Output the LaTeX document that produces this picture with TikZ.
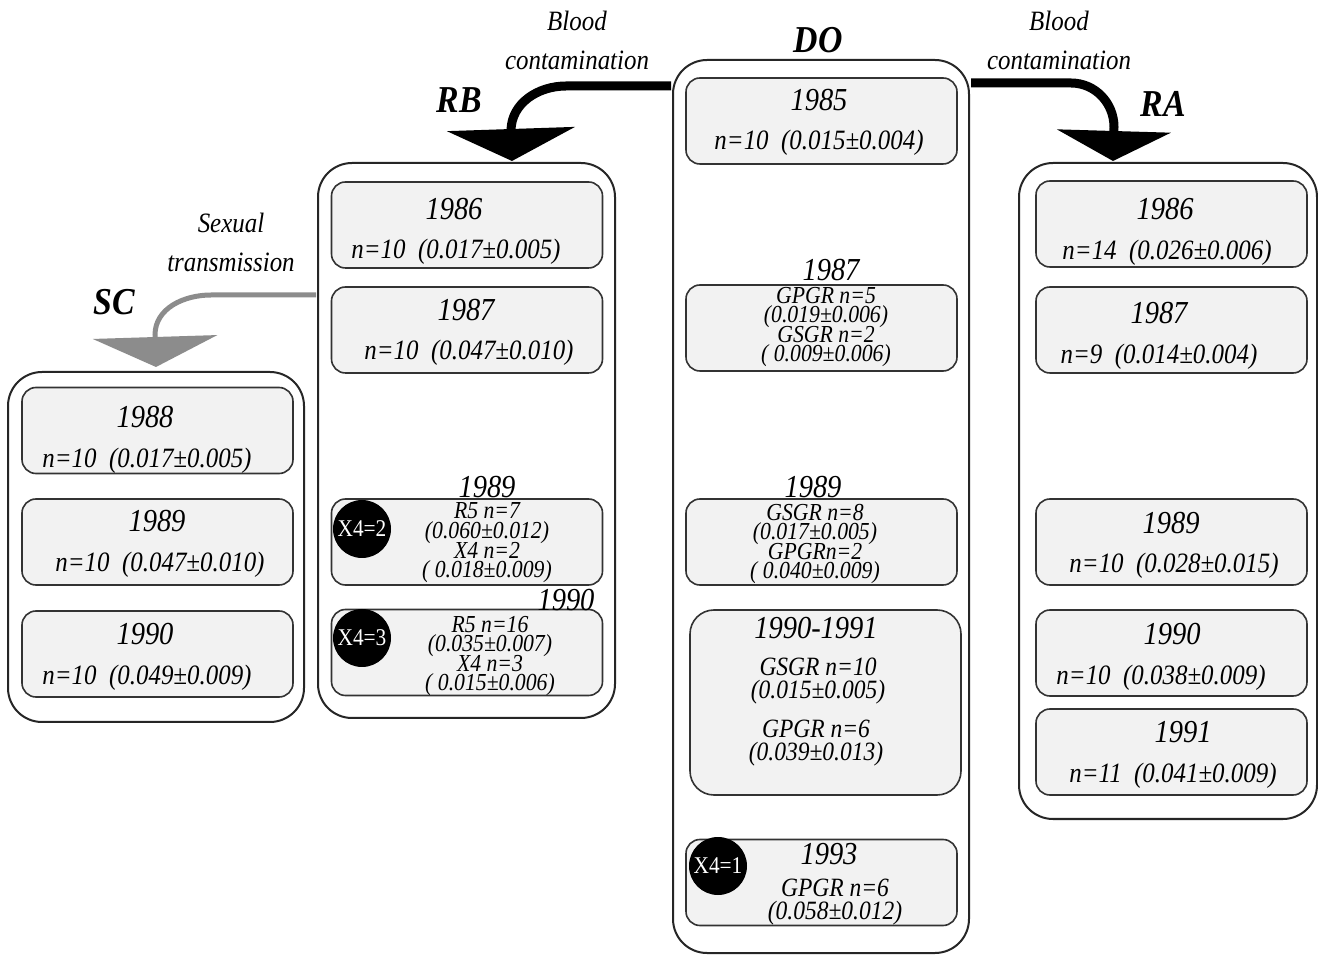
\documentclass[tikz,border=0pt]{standalone}
\usepackage{fontspec}
\setmainfont{Liberation Serif}[FakeStretch=0.89]
\usetikzlibrary{arrows.meta,calc}
\newcommand{\tightlines}{\lineskiplimit=-\maxdimen}

\begin{document}
\begin{tikzpicture}[
    x=0.5pt, y=-0.5pt,
    grp/.style={draw=black!85, line width=1pt, rounded corners=17pt, inner sep=0pt},
    yrbox/.style={draw=black!80, line width=0.8pt, fill=black!5, rounded corners=7pt, minimum width=135.5pt, minimum height=43pt, inner sep=0pt},
    yr/.style={font=\fontsize{16}{16}\selectfont\itshape, inner sep=0pt},
    dat/.style={font=\fontsize{14}{14}\selectfont\itshape, inner sep=0pt, yshift=-1.5pt},
    sub/.style={font=\fontsize{12.2}{9.8}\selectfont\itshape\tightlines, align=center, inner sep=0pt},
    pair/.style={font=\fontsize{13.2}{11.5}\selectfont\itshape\tightlines, align=center, inner sep=0pt},
    xdot/.style={circle, fill=black, minimum size=29pt, inner sep=0pt, text=white, font=\fontsize{12}{12}\selectfont\upshape},
    ttl/.style={font=\fontsize{19}{19}\selectfont\bfseries\itshape, inner sep=0pt},
    route/.style={font=\fontsize{14}{19.5}\selectfont\itshape, align=center, inner sep=0pt},
    blood/.style={line width=4.5pt, -{Triangle[length=16pt, width=63.5pt]}},
    sexual/.style={color=black!45, line width=2.5pt, -{Triangle[length=15pt, width=62pt]}}
]
\useasboundingbox[fill=white] (0,0) rectangle (1318,956);

\node[grp, minimum width=148pt, minimum height=175pt] (SC) at (156,547) {};
\node[grp, minimum width=148.5pt, minimum height=277.5pt] (RB) at (466.5,440.5) {};
\node[grp, minimum width=148pt, minimum height=446.5pt] (DO) at (821,506.5) {};
\node[grp, minimum width=149pt, minimum height=328pt] (RA) at (1168,491) {};

\node[ttl] (tSC) at (114,302) {SC};
\node[ttl] (tRB) at (459,100) {RB};
\node[ttl] (tDO) at (818,40) {DO};
\node[ttl] (tRA) at (1163,104) {RA};

\node[route] (lRB) at (577,40) {Blood\\contamination};
\node[route] (lRA) at (1059,40) {Blood\\contamination};
\node[route] (lSC) at (231,242) {Sexual\\transmission};

\node[yrbox] (sc88) at (157.5,430.5) {};
\node[yr] (sc88y) at (145,417) {1988};
\node[dat] (sc88d) at (147,458) {n=10~~(0.017±0.005)};
\node[yrbox] (sc89) at (157.5,542) {};
\node[yr] (sc89y) at (157,521) {1989};
\node[dat] (sc89d) at (160,562) {n=10~~(0.047±0.010)};
\node[yrbox] (sc90) at (157.5,654) {};
\node[yr] (sc90y) at (145,634) {1990};
\node[dat] (sc90d) at (147,675) {n=10~~(0.049±0.009)};

\node[yrbox] (rb86) at (467,225) {};
\node[yr] (rb86y) at (454,209) {1986};
\node[dat] (rb86d) at (456,249) {n=10~~(0.017±0.005)};
\node[yrbox] (rb87) at (467,330) {};
\node[yr] (rb87y) at (466,310) {1987};
\node[dat] (rb87d) at (469,350) {n=10~~(0.047±0.010)};
\node[yrbox] (rb89) at (467,542) {};
\node[yr] (rb89y) at (487,487) {1989};
\node[xdot] (rbx2) at (362,529) {X4=2};
\node[sub] (rb89t) at (487,543) {R5 n=7\\(0.060±0.012)\\X4 n=2\\( 0.018±0.009)};
\node[yrbox] (rb90) at (467,652.5) {};
\node[yr] (rb90y) at (566,600) {1990};
\node[xdot] (rbx3) at (362,638) {X4=3};
\node[sub] (rb90t) at (490,656) {R5 n=16\\(0.035±0.007)\\X4 n=3\\( 0.015±0.006)};

\node[yrbox] (do85) at (821.5,121) {};
\node[yr] (do85y) at (819,100) {1985};
\node[dat] (do85d) at (819,140) {n=10~~(0.015±0.004)};
\node[yrbox] (do87) at (821.5,328) {};
\node[yr] (do87y) at (831,270) {1987};
\node[sub] (do87t) at (826,327) {GPGR n=5\\(0.019±0.006)\\GSGR n=2\\( 0.009±0.006)};
\node[yrbox] (do89) at (821.5,542) {};
\node[yr] (do89y) at (813,487) {1989};
\node[sub] (do89t) at (815,544) {GSGR n=8\\(0.017±0.005)\\GPGRn=2\\( 0.040±0.009)};
\node[yrbox, rounded corners=12pt, minimum height=92.5pt] (do90) at (825.5,702.5) {};
\node[yr] (do90y) at (816,628) {1990-1991};
\node[pair] (do90a) at (818,681) {GSGR n=10\\(0.015±0.005)};
\node[pair] (do90b) at (816,743) {GPGR n=6\\(0.039±0.013)};
\node[yrbox] (do93) at (821.5,882.5) {};
\node[xdot] (dox1) at (718,866) {X4=1};
\node[yr] (do93y) at (829,854) {1993};
\node[pair] (do93t) at (835,902) {GPGR n=6\\(0.058±0.012)};

\node[yrbox] (ra86) at (1171.5,224) {};
\node[yr] (ra86y) at (1165,209) {1986};
\node[dat] (ra86d) at (1167,250) {n=14~~(0.026±0.006)};
\node[yrbox] (ra87) at (1171.5,330) {};
\node[yr] (ra87y) at (1159,313) {1987};
\node[dat] (ra87d) at (1159,354) {n=9~~(0.014±0.004)};
\node[yrbox] (ra89) at (1171.5,542) {};
\node[yr] (ra89y) at (1171,523) {1989};
\node[dat] (ra89d) at (1174,563) {n=10~~(0.028±0.015)};
\node[yrbox] (ra90) at (1171.5,653) {};
\node[yr] (ra90y) at (1172,634) {1990};
\node[dat] (ra90d) at (1161,675) {n=10~~(0.038±0.009)};
\node[yrbox] (ra91) at (1171.5,752) {};
\node[yr] (ra91y) at (1183,732) {1991};
\node[dat] (ra91d) at (1173,773) {n=11~~(0.041±0.009)};

\draw[blood] ($(DO.north west)+(-1,27)$) -- ++(-105,0) to[out=180,in=90] ++(-55,45) -- ($(RB.north)+(45.5,-1)$);
\draw[blood, -{Triangle[length=15pt, width=56.5pt]}] ($(DO.north east)+(1,24)$) -- ++(100,0) to[out=0,in=90] ++(43,44) -- ($(RA.north)+(-55,-1)$);
\draw[sexual] ($(RB.north west)+(-1,133)$) -- ++(-105,0) to[out=180,in=90] ++(-56,40) -- ($(SC.north)+(0,-4)$);
\end{tikzpicture}
\end{document}
